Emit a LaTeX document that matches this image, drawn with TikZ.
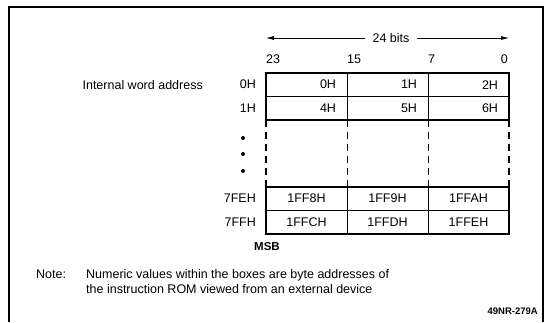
\documentclass[tikz,border=0pt]{standalone}
\usepackage{fontspec}
\setmainfont{Liberation Sans}
\usetikzlibrary{arrows.meta,positioning}

\tikzset{
  txt/.style={font=\fontsize{12.5}{15}\selectfont,inner sep=0pt},
  cell/.style={txt,draw,line width=0.8pt,minimum width=81pt,minimum height=23.3pt,
    anchor=north west,outer sep=0pt},
  rcell/.style={cell,text width=59pt,align=right},
  ccell/.style={cell,align=center},
  rowlab/.style={txt,left=10pt of #1},
  wordarr/.style={-{Latex[length=8pt,width=4pt]},line width=0.6pt},
  edge/.style={line width=2pt},
}

\begin{document}
\begin{tikzpicture}[x=1pt,y=-1pt]
  \useasboundingbox (0,0) rectangle (549,322);
  \draw[line width=1.3pt] (9,322) -- (9,7) -- (543,7) -- (543,322);

  % word width
  \node[txt,inner xsep=7pt] (bits) at (391,38) {24 bits};
  \foreach \b/\x/\a in {23/266/west,15/347/west,7/428/west,0/508/east}
    \node[txt,anchor=base \a] (n\b) at (\x,63) {\b};

  % first words
  \foreach \v [count=\i from 0] in {0H,1H,2H}
    \node[rcell] (a\i) at ({266+81*\i},73) {\v};
  \foreach \v [count=\i from 0] in {4H,5H,6H}
    \node[rcell] (b\i) at ({266+81*\i},96.3) {\v};
  % last words
  \foreach \v [count=\i from 0] in {1FF8H,1FF9H,1FFAH}
    \node[ccell] (c\i) at ({266+81*\i},187) {\v};
  \foreach \v [count=\i from 0] in {1FFCH,1FFDH,1FFEH}
    \node[ccell] (d\i) at ({266+81*\i},210.3) {\v};

  \coordinate (wl) at (a0.west |- bits);
  \coordinate (wr) at (a2.east |- bits);
  \draw[wordarr] (bits.west) -- (wl);
  \draw[wordarr] (bits.east) -- (wr);

  \draw[edge] (a0.north west) rectangle (b2.south east);
  \draw[edge] (c0.north west) rectangle (d2.south east);
  \draw[edge,dash pattern=on 7pt off 5pt] (b0.south west) -- (c0.north west);
  \draw[edge,dash pattern=on 7pt off 5pt] (b2.south east) -- (c2.north east);
  \foreach \i in {1,2}
    \draw[line width=0.8pt,dash pattern=on 7pt off 5pt] (b\i.south west) -- (c\i.north west);

  \node[txt,rowlab=a0] (la) {0H};
  \node[txt,rowlab=b0] (lb) {1H};
  \node[txt,rowlab=c0] (lc) {7FEH};
  \node[txt,rowlab=d0] (ld) {7FFH};
  \node[txt,anchor=east] (iwa) at (203,0 |- la) {Internal word address};
  \foreach \y in {138,154,171}
    \fill (243,\y) circle (2pt);

  \node[txt,font=\fontsize{11.5}{14}\selectfont\bfseries] (msb) at (267,247) {MSB};

  \node[txt,anchor=base west] (note) at (36,278) {Note:};
  \node[txt,anchor=north west,align=left] (notetxt) at (86,269)
    {Numeric values within the boxes are byte addresses of\\
     the instruction ROM viewed from an external device};
  \node[txt,anchor=base east,font=\fontsize{9.5}{11}\selectfont\bfseries] (fig) at (538,314) {49NR-279A};
\end{tikzpicture}
\end{document}
